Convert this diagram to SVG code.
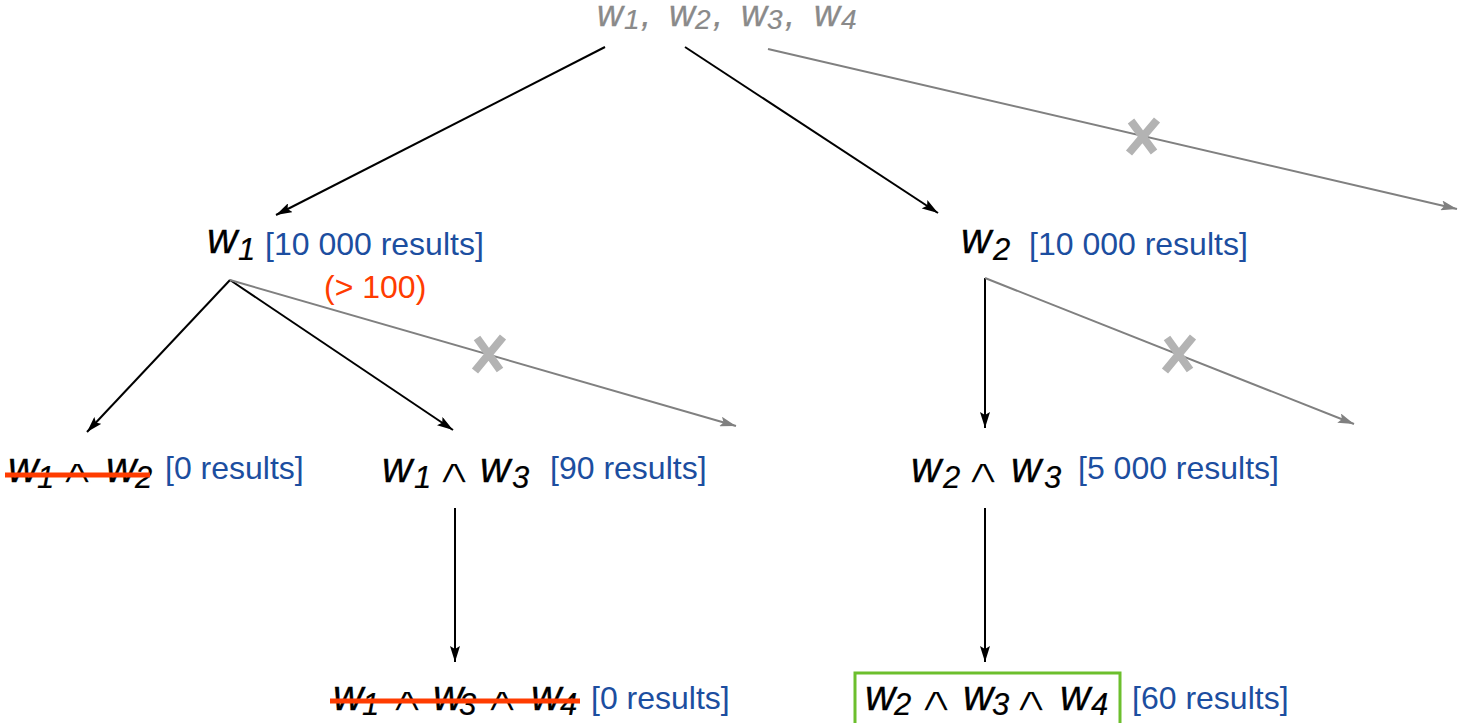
<svg xmlns="http://www.w3.org/2000/svg" width="1459" height="723" viewBox="0 0 1459 723">
  <style>
    text { font-family: "Liberation Sans", Arial, sans-serif; }
    .w { font-style: italic; font-size: 42px; fill: #000; stroke: #000; stroke-width: 0.3px; }
    .sub { font-style: italic; font-size: 31px; fill: #000; stroke: #000; stroke-width: 0.2px; }
    .tw { font-style: italic; font-size: 36px; fill: #8a8a8a; stroke: #8a8a8a; stroke-width: 0.3px; }
    .tsub { font-style: italic; font-size: 28px; fill: #8a8a8a; stroke: #8a8a8a; stroke-width: 0.2px; }
    .op { font-family: "DejaVu Sans", sans-serif; font-size: 34px; fill: #000; stroke: #fff; stroke-width: 1.3px; text-anchor: middle; }
    .res { font-size: 32px; fill: #1c4ea0; }
    .warn { font-size: 32px; fill: #ff3c00; }
    .strike { stroke: #ff3c00; stroke-width: 5; }
    .edge { stroke: #000; stroke-width: 2; fill: none; marker-end: url(#ah); }
    .pruned { stroke: #808080; stroke-width: 2; fill: none; marker-end: url(#ahg); }
    .cross { stroke: #b3b3b3; stroke-width: 8; fill: none; }
  </style>
  <defs>
    <marker id="ah" viewBox="0 0 16 10" refX="16" refY="5" markerWidth="16" markerHeight="10" orient="auto" markerUnits="userSpaceOnUse">
      <path d="M0,0 L16,5 L0,10 L3,5 z" fill="#000"/>
    </marker>
    <marker id="ahg" viewBox="0 0 16 10" refX="16" refY="5" markerWidth="16" markerHeight="10" orient="auto" markerUnits="userSpaceOnUse">
      <path d="M0,0 L16,5 L0,10 L3,5 z" fill="#808080"/>
    </marker>
  </defs>

  <!-- connectors -->
  <g id="connectors">
    <line class="edge" x1="605" y1="47" x2="276" y2="215"/>
    <line class="edge" x1="685" y1="47" x2="938" y2="213"/>
    <line class="pruned" x1="768" y1="49" x2="1457" y2="209"/>
    <line class="edge" x1="230" y1="280" x2="87" y2="432"/>
    <line class="edge" x1="230" y1="280" x2="453" y2="430"/>
    <line class="pruned" x1="230" y1="280" x2="736" y2="426"/>
    <line class="edge" x1="985" y1="278" x2="985" y2="428"/>
    <line class="pruned" x1="985" y1="278" x2="1354" y2="424"/>
    <line class="edge" x1="455" y1="508" x2="455" y2="662"/>
    <line class="edge" x1="985" y1="508" x2="985" y2="662"/>
    <!-- crosses on pruned branches -->
    <path class="cross" d="M1131,121 L1154,152 M1157,120 L1129,153"/>
    <path class="cross" d="M477,338 L500,370 M503,337 L475,371"/>
    <path class="cross" d="M1167,338 L1190,370 M1193,337 L1165,371"/>
  </g>

  <!-- root: all words -->
  <g id="root">
    <text><tspan class="tw" x="597" y="26">w</tspan><tspan class="tsub" x="624" y="29">1</tspan><tspan class="tw" x="641" y="26">,</tspan><tspan class="tw" x="669" y="26">w</tspan><tspan class="tsub" x="695" y="29">2</tspan><tspan class="tw" x="713" y="26">,</tspan><tspan class="tw" x="741" y="26">w</tspan><tspan class="tsub" x="767" y="29">3</tspan><tspan class="tw" x="785" y="26">,</tspan><tspan class="tw" x="814" y="26">w</tspan><tspan class="tsub" x="841" y="29">4</tspan></text>
  </g>

  <!-- level 1 -->
  <g id="n-w1">
    <text><tspan class="w" x="207" y="253">w</tspan><tspan class="sub" x="238" y="260">1</tspan></text>
    <text class="res" x="265" y="255">[10 000 results]</text>
    <text class="warn" x="324" y="298">(&gt; 100)</text>
  </g>
  <g id="n-w2">
    <text><tspan class="w" x="961" y="253">w</tspan><tspan class="sub" x="993" y="260">2</tspan></text>
    <text class="res" x="1029" y="255">[10 000 results]</text>
  </g>

  <!-- level 2 -->
  <g id="n-w1w2">
    <text><tspan class="w" x="8" y="482">w</tspan><tspan class="sub" x="37" y="488">1</tspan><tspan class="w" x="106" y="482">w</tspan><tspan class="sub" x="135" y="488">2</tspan></text>
    <text class="op" transform="translate(77,483) scale(1.65,1)">∧</text>
    <line class="strike" x1="5" y1="475" x2="150" y2="475"/>
    <text class="res" x="165" y="479">[0 results]</text>
  </g>
  <g id="n-w1w3">
    <text><tspan class="w" x="382" y="482">w</tspan><tspan class="sub" x="414" y="488">1</tspan><tspan class="w" x="480" y="482">w</tspan><tspan class="sub" x="512" y="488">3</tspan></text>
    <text class="op" transform="translate(454,483) scale(1.65,1)">∧</text>
    <text class="res" x="550" y="479">[90 results]</text>
  </g>
  <g id="n-w2w3">
    <text><tspan class="w" x="911" y="482">w</tspan><tspan class="sub" x="943" y="488">2</tspan><tspan class="w" x="1011" y="482">w</tspan><tspan class="sub" x="1044" y="488">3</tspan></text>
    <text class="op" transform="translate(983,483) scale(1.65,1)">∧</text>
    <text class="res" x="1078" y="479">[5 000 results]</text>
  </g>

  <!-- level 3 -->
  <g id="n-w1w3w4">
    <text><tspan class="w" x="333" y="710">w</tspan><tspan class="sub" x="362" y="715">1</tspan><tspan class="w" x="433" y="710">w</tspan><tspan class="sub" x="459" y="715">3</tspan><tspan class="w" x="531" y="710">w</tspan><tspan class="sub" x="560" y="715">4</tspan></text>
    <text class="op" transform="translate(407,711) scale(1.65,1)">∧</text>
    <text class="op" transform="translate(502,711) scale(1.65,1)">∧</text>
    <line class="strike" x1="330" y1="701" x2="580" y2="701"/>
    <text class="res" x="591" y="709">[0 results]</text>
  </g>
  <g id="n-w2w3w4">
    <rect x="855" y="673" width="265" height="60" fill="none" stroke="#6cbf2d" stroke-width="3"/>
    <text><tspan class="w" x="865" y="710">w</tspan><tspan class="sub" x="894" y="715">2</tspan><tspan class="w" x="963" y="710">w</tspan><tspan class="sub" x="992" y="715">3</tspan><tspan class="w" x="1060" y="710">w</tspan><tspan class="sub" x="1091" y="715">4</tspan></text>
    <text class="op" transform="translate(936,711) scale(1.65,1)">∧</text>
    <text class="op" transform="translate(1031,711) scale(1.65,1)">∧</text>
    <text class="res" x="1132" y="709">[60 results]</text>
  </g>
</svg>
